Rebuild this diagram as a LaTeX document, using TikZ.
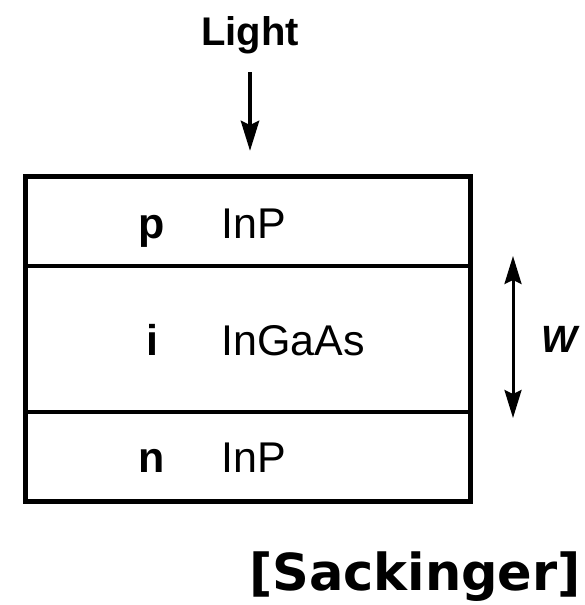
\documentclass[tikz,border=0pt]{standalone}
\usepackage{fontspec}
\setmainfont{Liberation Sans}
\newfontfamily\djv{DejaVu Sans}
\usetikzlibrary{arrows.meta}
\begin{document}
\begin{tikzpicture}[x=1pt,y=-1pt,
  lbl/.style={inner sep=0pt,font=\fontsize{43}{43}\selectfont},
  blbl/.style={inner sep=0pt,font=\fontsize{43}{43}\selectfont\bfseries},
  arr/.style={line width=4.5pt,-{Stealth[length=30pt,width=18pt,inset=4pt]}}]
\useasboundingbox (0,0) rectangle (585,605);
\draw[line width=5pt] (25,176) rectangle (470,501);
\coordinate (l1a) at (25,266); \coordinate (l1b) at (470,266);
\coordinate (l2a) at (25,412); \coordinate (l2b) at (470,412);
\draw[line width=3.5pt] (l1a) -- (l1b);
\draw[line width=3.5pt] (l2a) -- (l2b);
\node[blbl,anchor=base] (p) at (152,238) {p};
\node[lbl,anchor=base west] (inp1) at (221,238) {InP};
\node[blbl,anchor=base] (i) at (152,355) {i};
\node[lbl,anchor=base west] (ingaas) at (221,355) {InGaAs};
\node[blbl,anchor=base] (n) at (152,472) {n};
\node[lbl,anchor=base west] (inp2) at (221,472) {InP};
\node[inner sep=0pt,anchor=base,font=\fontsize{40}{40}\selectfont\bfseries] (light) at (250,45) {Light};
\coordinate (la) at (250,72);
\coordinate (lb) at (250,151);
\draw[arr] (la) -- (lb);
\coordinate (wa) at (513,256);
\coordinate (wb) at (513,418);
\draw[line width=3pt,{Stealth[length=28pt,width=17pt,inset=4pt]}-{Stealth[length=28pt,width=17pt,inset=4pt]}] (wa) -- (wb);
\node[inner sep=0pt,anchor=base,font=\fontsize{38}{38}\selectfont\bfseries\itshape] (w) at (559,352) {W};
\node[inner sep=0pt,anchor=base,font=\djv\fontsize{51}{51}\selectfont\bfseries] (src) at (415,590) {[Sackinger]};
\end{tikzpicture}
\end{document}
